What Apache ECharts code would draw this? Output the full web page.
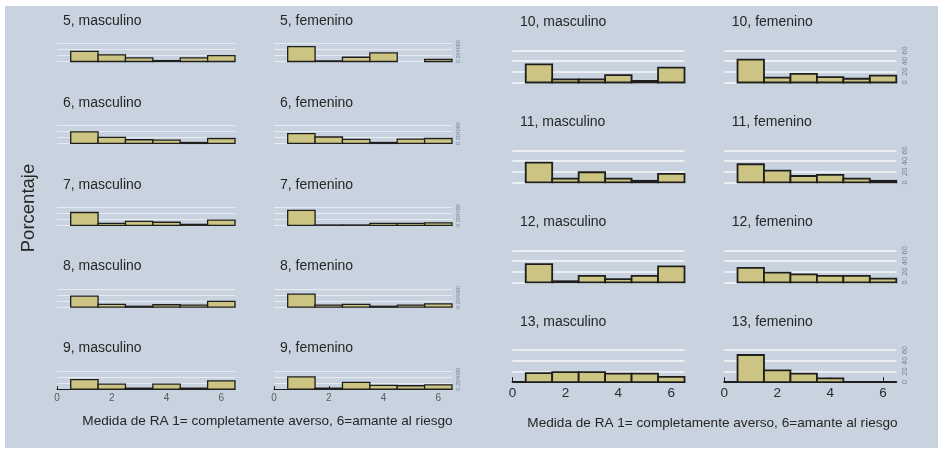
<!DOCTYPE html>
<html>
<head>
<meta charset="utf-8">
<script src="https://cdn.jsdelivr.net/npm/echarts@6/dist/echarts.min.js"></script>
<style>
  html, body { margin: 0; padding: 0; background: #ffffff; }
  #wrap { position: relative; width: 943px; height: 450px; background: #ffffff; }
  #panelBg { position: absolute; left: 5px; top: 6px; width: 933px; height: 442px; background: #c8d3df; }
  #chart { position: absolute; left: 0; top: 0; width: 943px; height: 450px; }
</style>
</head>
<body>
<div id="wrap">
  <div id="panelBg"></div>
  <div id="chart"></div>
</div>
<script>
// Risk-attitude scale (1 = completely averse, 6 = risk lover)
const riskLevels = [1, 2, 3, 4, 5, 6];
const xTicks = [0, 2, 4, 6];
const yTicks = [0, 20, 40, 60];

// Percentage of children in each risk level, by age and sex
const masc5  = [33, 22, 12, 3, 12, 19];
const fem5   = [49, 2, 14, 28, 0, 7];
const masc6  = [38, 20, 12, 11, 3, 16];
const fem6   = [32, 21, 13, 3, 14, 16];
const masc7  = [42, 6, 13, 10, 3, 17];
const fem7   = [49, 1, 1, 6, 6, 8];
const masc8  = [36, 9, 3, 8, 7, 19];
const fem8   = [43, 7, 9, 3, 7, 11];
const masc9  = [31, 16, 3, 16, 3, 27];
const fem9   = [40, 3, 22, 12, 11, 14];
const masc10 = [34, 6, 6, 14, 3, 28];
const fem10  = [43, 9, 16, 10, 7, 13];
const masc11 = [37, 7, 19, 7, 3, 16];
const fem11  = [34, 22, 12, 14, 7, 3];
const masc12 = [34, 2, 12, 6, 12, 30];
const fem12  = [27, 18, 15, 12, 12, 7];
const masc13 = [17, 19, 19, 16, 16, 10];
const fem13  = [51, 22, 16, 7, 0, 0];

const leftAges = [5, 6, 7, 8, 9];
const rightAges = [10, 11, 12, 13];
const sexes = ['masculino', 'femenino'];
const values = {
  masculino: { 5: masc5, 6: masc6, 7: masc7, 8: masc8, 9: masc9, 10: masc10, 11: masc11, 12: masc12, 13: masc13 },
  femenino:  { 5: fem5,  6: fem6,  7: fem7,  8: fem8,  9: fem9,  10: fem10,  11: fem11,  12: fem12,  13: fem13 }
};

const axisTitle = 'Medida de RA 1= completamente averso, 6=amante al riesgo';
const yTitle = 'Porcentaje';

const FONT = '"Liberation Sans", Arial, Helvetica, sans-serif';
const BAR_FILL = '#ccc482';
const BAR_EDGE = '#1e1e1e';

// Two blocks of small multiples, each with its own geometry
const blocks = [
  {
    ages: leftAges, colLeft: [57, 274], colWidth: 178,
    firstBase: 61.5, rowStep: 81.9, plotH: 18.3,
    titleGap: 22.3, titleDx: 6,
    edge: 1.3, gridColor: '#e6ecf2', gridWidth: 1,
    tickFont: 10, tickColor: '#5a5a5a', tickLen: 3, axisWidth: 1.2,
    yFont: 5.5, yMargin: 3,
    xTitle: { x: 267.5, y: 421 }
  },
  {
    ages: rightAges, colLeft: [512.5, 724.3], colWidth: 172,
    firstBase: 82.5, rowStep: 99.9, plotH: 32,
    titleGap: 28, titleDx: 7.5,
    edge: 1.8, gridColor: '#f7f9fb', gridWidth: 1.6,
    tickFont: 13.5, tickColor: '#2a2a2a', tickLen: 5, axisWidth: 1.8,
    yFont: 7.5, yMargin: 5,
    xTitle: { x: 712.5, y: 423 }
  }
];

const grids = [], xAxes = [], yAxes = [], series = [], texts = [];

blocks.forEach(function (b) {
  b.ages.forEach(function (age, r) {
    const base = b.firstBase + b.rowStep * r;
    const top = base - b.plotH;
    const isBottom = r === b.ages.length - 1;
    sexes.forEach(function (sex, c) {
      const idx = grids.length;
      grids.push({ left: b.colLeft[c], top: top, width: b.colWidth, height: b.plotH, containLabel: false });
      xAxes.push({
        type: 'value', gridIndex: idx, min: 0, max: 6.5,
        axisLine: { show: isBottom, lineStyle: { color: '#1e1e1e', width: b.axisWidth } },
        axisTick: { show: isBottom, inside: true, length: b.tickLen, customValues: xTicks,
                    lineStyle: { color: '#1e1e1e', width: 1 } },
        axisLabel: { show: isBottom, customValues: xTicks, fontSize: b.tickFont, color: b.tickColor,
                     fontFamily: FONT, margin: 4 },
        splitLine: { show: false }
      });
      yAxes.push({
        type: 'value', gridIndex: idx, min: 0, max: 60, interval: 20,
        position: 'right',
        axisLine: { show: false },
        axisTick: { show: false },
        axisLabel: { show: c === 1, rotate: 90, fontSize: b.yFont, color: '#73809a',
                     fontFamily: FONT, margin: b.yMargin, showMinLabel: true, showMaxLabel: true,
                     customValues: yTicks },
        splitLine: { show: true, lineStyle: { color: b.gridColor, width: b.gridWidth } }
      });
      const data = riskLevels.map(function (lvl, i) { return [lvl, values[sex][age][i]]; });
      series.push({
        type: 'custom', xAxisIndex: idx, yAxisIndex: idx, silent: true, z: 3,
        data: data,
        renderItem: (function (edge) {
          return function (params, api) {
            const x = api.value(0), v = api.value(1);
            if (!v) return null;
            const p0 = api.coord([x - 0.5, v]);
            const p1 = api.coord([x + 0.5, 0]);
            return {
              type: 'rect',
              shape: { x: p0[0], y: p0[1], width: p1[0] - p0[0], height: p1[1] - p0[1] },
              style: { fill: BAR_FILL, stroke: BAR_EDGE, lineWidth: edge }
            };
          };
        })(b.edge)
      });
      texts.push({
        type: 'text', x: b.colLeft[c] + b.titleDx, y: top - b.titleGap, silent: true,
        style: { text: age + ', ' + sex, fontSize: 14, fontFamily: FONT, fill: '#262626',
                 align: 'left', verticalAlign: 'middle' }
      });
    });
  });
  texts.push({
    type: 'text', x: b.xTitle.x, y: b.xTitle.y, silent: true,
    style: { text: axisTitle, fontSize: 13.6, fontFamily: FONT, fill: '#262626',
             align: 'center', verticalAlign: 'middle' }
  });
});

texts.push({
  type: 'text', x: 29, y: 208, rotation: Math.PI / 2, silent: true,
  style: { text: yTitle, fontSize: 18.5, fontFamily: FONT, fill: '#262626',
           align: 'center', verticalAlign: 'middle' }
});

const chart = echarts.init(document.getElementById('chart'), null, { renderer: 'canvas' });
chart.setOption({
  backgroundColor: 'transparent',
  animation: false,
  grid: grids,
  xAxis: xAxes,
  yAxis: yAxes,
  series: series,
  graphic: { elements: texts }
});
</script>
</body>
</html>
